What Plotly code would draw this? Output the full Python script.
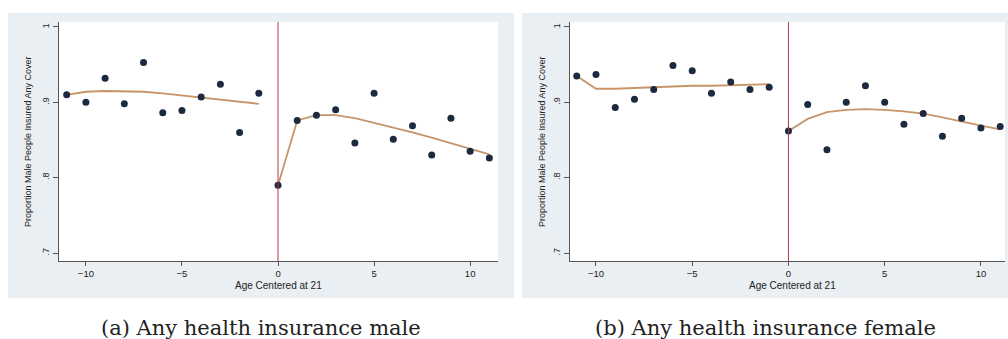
import plotly.graph_objects as go

# ---------------- data ----------------
ages = list(range(-11, 12))
ages_left = list(range(-11, 0))
ages_right = list(range(0, 12))

male_points = [0.910, 0.900, 0.932, 0.898, 0.953, 0.886, 0.889, 0.907, 0.924, 0.860, 0.912,
               0.790, 0.876, 0.883, 0.890, 0.846, 0.912, 0.851, 0.869, 0.830, 0.879, 0.835, 0.826]
male_fit_left = [0.910, 0.914, 0.915, 0.915, 0.914, 0.912, 0.909, 0.907, 0.904, 0.901, 0.898]
male_fit_right = [0.790, 0.876, 0.883, 0.883, 0.879, 0.873, 0.866, 0.860, 0.853, 0.846, 0.838, 0.831]

female_points = [0.935, 0.937, 0.893, 0.904, 0.917, 0.949, 0.942, 0.912, 0.927, 0.917, 0.920,
                 0.862, 0.897, 0.837, 0.900, 0.922, 0.900, 0.871, 0.885, 0.855, 0.879, 0.866, 0.868]
female_fit_left = [0.935, 0.918, 0.918, 0.919, 0.920, 0.921, 0.922, 0.922, 0.923, 0.924, 0.924]
female_fit_right = [0.862, 0.878, 0.887, 0.890, 0.891, 0.890, 0.888, 0.885, 0.880, 0.874, 0.869, 0.864]

x_ticks = [-10, -5, 0, 5, 10]
y_ticks = [0.7, 0.8, 0.9, 1.0]
y_tick_text = [".7", ".8", ".9", "1"]
cutoff = 0

y_title = "Proportion Male People Insured Any Cover"
x_title = "Age Centered at 21"
captions = ["(a) Any health insurance male", "(b) Any health insurance female"]

# ---------------- style ----------------
W, H = 1008, 339
PANEL = "#e9eff2"
DOT = "#1c2a3f"
FIT = "#c8946a"
VLINE = "#b23a48"
AXIS = "#555555"

def px(x):
    return x / W

def py(y):
    return 1 - y / H

fig = go.Figure()

panels = [
    dict(pts=male_points, fl=male_fit_left, fr=male_fit_right,
         dom=[px(59), px(498)], rng=[-11.4, 11.45], box=[8, 514], xa="x", ya="y"),
    dict(pts=female_points, fl=female_fit_left, fr=female_fit_right,
         dom=[px(570), px(1005)], rng=[-11.35, 11.25], box=[522, 1008], xa="x2", ya="y2"),
]

ydom = [py(261), py(22)]
yrng = [0.6894, 1.0066]

shapes = []
annotations = []
for i, p in enumerate(panels):
    xa, ya = p["xa"], p["ya"]
    fig.add_trace(go.Scatter(x=ages_left, y=p["fl"], mode="lines",
                             line=dict(color=FIT, width=1.8), xaxis=xa, yaxis=ya,
                             showlegend=False, hoverinfo="skip"))
    fig.add_trace(go.Scatter(x=ages_right, y=p["fr"], mode="lines",
                             line=dict(color=FIT, width=1.8), xaxis=xa, yaxis=ya,
                             showlegend=False, hoverinfo="skip"))
    fig.add_trace(go.Scatter(x=ages, y=p["pts"], mode="markers",
                             marker=dict(color=DOT, size=7), xaxis=xa, yaxis=ya,
                             showlegend=False))
    shapes.append(dict(type="rect", xref="paper", yref="paper",
                       x0=px(p["box"][0]), x1=px(p["box"][1]), y0=py(298), y1=py(13),
                       fillcolor=PANEL, line=dict(width=0), layer="below"))
    shapes.append(dict(type="rect", xref=f"{xa} domain", yref=f"{ya} domain",
                       x0=0, x1=1, y0=0, y1=1,
                       fillcolor="white", line=dict(width=0), layer="below"))
    shapes.append(dict(type="line", xref=xa, yref=f"{ya} domain",
                       x0=cutoff, x1=cutoff, y0=0, y1=1,
                       line=dict(color=VLINE, width=1), layer="above"))
    annotations.append(dict(text=y_title, xref="paper", yref="paper",
                            x=px(p["box"][0] + 20), y=py(142), textangle=-90,
                            xanchor="center", yanchor="middle",
                            showarrow=False, font=dict(size=9, color="#222")))
    annotations.append(dict(text=x_title, xref="paper", yref="paper",
                            x=px(p["box"][0] + 270), y=py(285),
                            xanchor="center", yanchor="middle",
                            showarrow=False, font=dict(size=10, color="#222")))
    annotations.append(dict(text=captions[i], xref="paper", yref="paper",
                            x=px((p["box"][0] + p["box"][1]) / 2), y=py(328),
                            showarrow=False, xanchor="center", yanchor="middle",
                            font=dict(family="DejaVu Serif", size=21, color="#222")))

fig.update_layout(
    width=W, height=H, margin=dict(l=0, r=0, t=0, b=0),
    paper_bgcolor="white", plot_bgcolor="rgba(0,0,0,0)",
    shapes=shapes, annotations=annotations,
    font=dict(family="Liberation Sans", color="#222"),
)

for i, p in enumerate(panels):
    xk = "xaxis" if i == 0 else "xaxis2"
    yk = "yaxis" if i == 0 else "yaxis2"
    fig.update_layout(**{
        xk: dict(domain=p["dom"], range=p["rng"], anchor=p["ya"],
                 tickvals=x_ticks, ticks="outside", ticklen=4, tickcolor=AXIS,
                 showline=True, linecolor=AXIS, linewidth=1, showgrid=False,
                 zeroline=False, tickfont=dict(size=9.5)),
        yk: dict(domain=ydom, range=yrng, anchor=p["xa"],
                 tickvals=y_ticks, ticktext=y_tick_text, tickangle=-90,
                 ticks="outside", ticklen=5, tickcolor=AXIS,
                 showline=True, linecolor=AXIS, linewidth=1, showgrid=False,
                 zeroline=False, tickfont=dict(size=9)),
    })

fig.write_html("out.html")
